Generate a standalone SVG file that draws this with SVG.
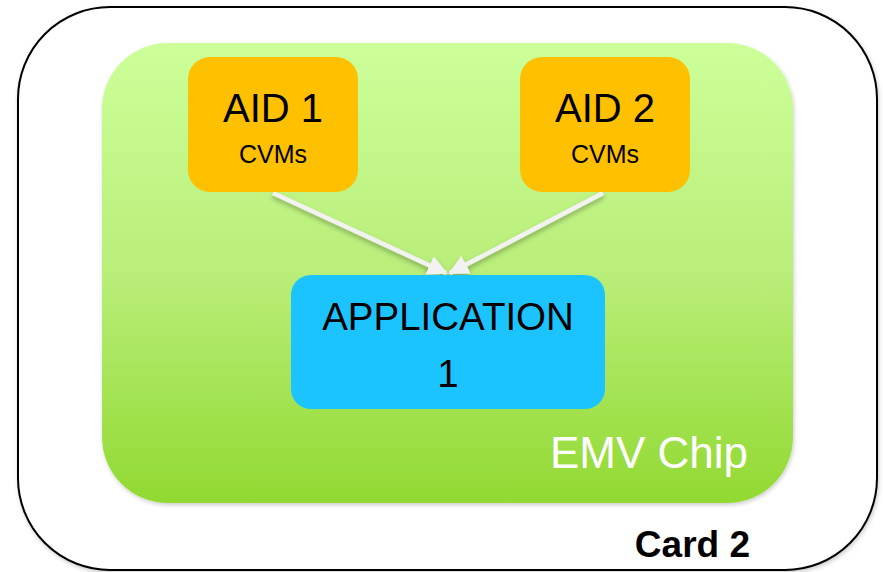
<svg xmlns="http://www.w3.org/2000/svg" width="883" height="572" viewBox="0 0 883 572">
  <style>
    .t { font-family: "Liberation Sans", Arial, sans-serif; text-anchor: middle; fill: #000; }
    .conn { stroke: #F2F2F2; stroke-width: 4.5; fill: none; }
  </style>
  <defs>
    <linearGradient id="chipGrad" x1="0" y1="0" x2="0" y2="1">
      <stop offset="0" stop-color="#CCFF99"/>
      <stop offset="0.5" stop-color="#B9EE79"/>
      <stop offset="1" stop-color="#92D932"/>
    </linearGradient>
    <filter id="shadow" x="-10%" y="-10%" width="120%" height="130%">
      <feDropShadow dx="0" dy="3" stdDeviation="2.5" flood-color="#000" flood-opacity="0.3"/>
    </filter>
    <filter id="softShadow" x="-5%" y="-5%" width="110%" height="110%">
      <feDropShadow dx="1" dy="2" stdDeviation="2" flood-color="#000" flood-opacity="0.2"/>
    </filter>
    <marker id="arrow" viewBox="0 0 10 10" refX="9" refY="5" markerWidth="4.5" markerHeight="4.5" markerUnits="strokeWidth" orient="auto">
      <path d="M0,0 L10,5 L0,10 z" fill="#F2F2F2"/>
    </marker>
  </defs>

  <g id="card">
    <rect x="18" y="7" width="859" height="563" rx="92" ry="92" fill="#FFFFFF" stroke="#000" stroke-width="2" filter="url(#softShadow)"/>
    <text x="750" y="557" class="t" style="text-anchor:end;font-weight:bold;font-size:37px">Card 2</text>
  </g>

  <g id="chip">
    <rect x="102" y="43" width="691" height="460" rx="66" ry="66" fill="url(#chipGrad)" filter="url(#softShadow)"/>
    <text x="748" y="468" class="t" style="text-anchor:end;fill:#FFFFFF;font-size:44px">EMV Chip</text>
  </g>

  <g id="connectors" filter="url(#shadow)">
    <line class="conn" x1="273" y1="193" x2="446" y2="273" marker-end="url(#arrow)"/>
    <line class="conn" x1="603" y1="193" x2="450" y2="273" marker-end="url(#arrow)"/>
  </g>

  <g id="aid1">
    <rect x="188" y="57" width="170" height="135" rx="22" ry="22" fill="#FFC000"/>
    <text x="273" y="122" class="t" style="font-size:40px">AID 1</text>
    <text x="273" y="163" class="t" style="font-size:25px">CVMs</text>
  </g>

  <g id="aid2">
    <rect x="520" y="57" width="170" height="135" rx="22" ry="22" fill="#FFC000"/>
    <text x="605" y="122" class="t" style="font-size:40px">AID 2</text>
    <text x="605" y="163" class="t" style="font-size:25px">CVMs</text>
  </g>

  <g id="application">
    <rect x="291" y="275" width="314" height="134" rx="20" ry="20" fill="#1CC4FF"/>
    <text x="448" y="330" class="t" style="font-size:38.5px">APPLICATION</text>
    <text x="448" y="387" class="t" style="font-size:38.5px">1</text>
  </g>
</svg>
